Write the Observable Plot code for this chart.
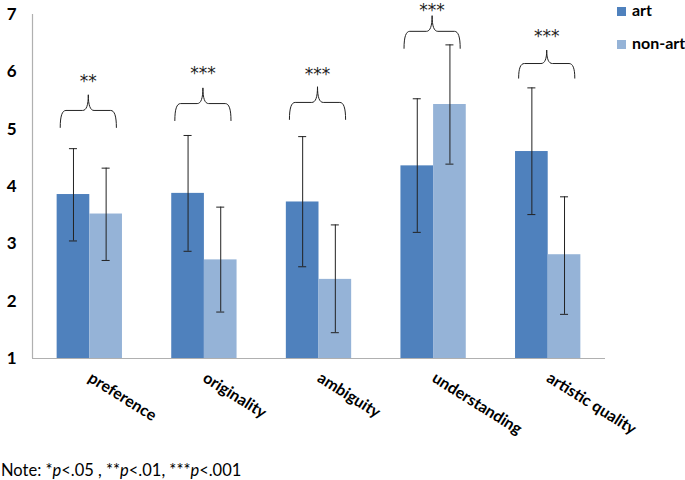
<!DOCTYPE html>
<html><head><meta charset="utf-8">
<script src="https://cdn.jsdelivr.net/npm/d3@7"></script>
<script src="https://cdn.jsdelivr.net/npm/@observablehq/plot@0.6"></script>
<style>
body{margin:0;background:#fff;font-family:Lato,sans-serif}
#wrap{position:relative;width:685px;height:480px;overflow:hidden}
#wrap svg{position:absolute;left:0;top:0}
.leg{position:absolute;left:617px;font:bold 16px Lato,sans-serif;color:#000;white-space:nowrap;line-height:16px}
.leg span{display:inline-block;width:9px;height:9px;margin-right:6px;vertical-align:0px}
#note{position:absolute;left:1px;top:460px;font:16.5px Lato,sans-serif;color:#000;white-space:nowrap}
</style></head>
<body><div id="wrap"></div>
<script>
const categories = ["preference","originality","ambiguity","understanding","artistic quality"];
const groups = ["art","non-art"];
const groupColors = ["#4f81bd","#95b3d7"];
const artMean = [3.86,3.88,3.73,4.36,4.61];
const artLow = [3.05,2.87,2.60,3.20,3.51];
const artHigh = [4.66,4.89,4.87,5.53,5.72];
const nonArtMean = [3.52,2.72,2.38,5.43,2.81];
const nonArtLow = [2.71,1.81,1.45,4.39,1.77];
const nonArtHigh = [4.32,3.64,3.33,6.47,3.82];
const significance = ["**","***","***","***","***"];
const braceBase = [5.03,5.15,5.17,6.41,5.89];
const braceHeight = [0.57,0.57,0.57,0.57,0.49];
const starLevel = [5.89,6.03,6.01,7.12,6.67];
const yTicks = [1,2,3,4,5,6,7];

const barW = 0.285;
const rows = [];
categories.forEach((c,i)=>{
  rows.push({i,group:"art",mean:artMean[i],low:artLow[i],high:artHigh[i],x1:i-barW,x2:i});
  rows.push({i,group:"non-art",mean:nonArtMean[i],low:nonArtLow[i],high:nonArtHigh[i],x1:i,x2:i+barW});
});
rows.forEach(r=>{r.xc=(r.x1+r.x2)/2; r.c1=r.xc-0.035; r.c2=r.xc+0.035;});
const caps = rows.flatMap(r=>[{y:r.low,x1:r.c1,x2:r.c2},{y:r.high,x1:r.c1,x2:r.c2}]);

// brace shape built from quadratic segments
function quad(p0,p1,p2,n=8){const o=[];for(let k=0;k<=n;k++){const t=k/n,a=(1-t)*(1-t),b=2*(1-t)*t,c=t*t;o.push([a*p0[0]+b*p1[0]+c*p2[0],a*p0[1]+b*p1[1]+c*p2[1]]);}return o;}
const braces=[];
categories.forEach((c,i)=>{
  const xm=i-0.013,hw=0.245,r=0.05,base=braceBase[i],h=braceHeight[i],flat=base+h*0.52,cusp=base+h;
  const x0=xm-hw,x1=xm+hw;
  const pts=[...quad([x0,base],[x0,flat],[x0+r,flat]),...quad([xm-r,flat],[xm,flat],[xm,cusp]),...quad([xm,cusp],[xm,flat],[xm+r,flat]),...quad([x1-r,flat],[x1,flat],[x1,base])];
  pts.forEach(p=>braces.push({i,x:p[0],y:p[1]}));
});
const stars = categories.map((c,i)=>({x:i-0.013,y:starLevel[i],t:significance[i]}));

const chart = Plot.plot({
  width:685, height:440,
  marginLeft:32, marginRight:80, marginTop:14, marginBottom:82,
  style:{fontFamily:"Lato, sans-serif",background:"white",overflow:"visible"},
  x:{type:"linear",domain:[-0.5,4.5]},
  y:{domain:[1,7]},
  color:{domain:groups,range:groupColors},
  marks:[
    Plot.rectY(rows,{x1:"x1",x2:"x2",y1:1,y2:"mean",fill:"group"}),
    Plot.ruleX(rows,{x:"xc",y1:"low",y2:"high",stroke:"#222",strokeWidth:1}),
    Plot.ruleY(caps,{y:"y",x1:"x1",x2:"x2",stroke:"#222",strokeWidth:1}),
    Plot.ruleX([-0.5],{y1:1,y2:7,stroke:"#b0b0b0",strokeWidth:1.2}),
    Plot.ruleY([1],{x1:-0.5,x2:4.5,stroke:"#b0b0b0",strokeWidth:1.2}),
    Plot.line(braces,{x:"x",y:"y",z:"i",stroke:"#222",strokeWidth:1}),
    Plot.text(stars,{x:"x",y:"y",text:"t",fontSize:17,fontFamily:"DejaVu Sans",fill:"#222",dy:3}),
    Plot.axisY({ticks:yTicks,tickFormat:"d",tickSize:0,tickPadding:16,fontWeight:"bold",fontSize:17,label:null,fill:"#000"}),
    Plot.axisX({ticks:[0,1,2,3,4],tickFormat:i=>categories[i],tickRotate:32,textAnchor:"start",tickSize:0,tickPadding:18,fontWeight:"bold",fontSize:16,label:null,fill:"#000"})
  ]
});
const wrap=document.getElementById("wrap");
wrap.appendChild(chart);
groups.forEach((g,k)=>{
  const d=document.createElement("div");d.className="leg";d.style.top=(k===0?2:35)+"px";
  d.innerHTML=`<span style="background:${groupColors[k]}"></span>${g}`;wrap.appendChild(d);
});
const note=document.createElement("div");note.id="note";
note.innerHTML="Note: *<i>p</i>&lt;.05 , **<i>p</i>&lt;.01, ***<i>p</i>&lt;.001";
wrap.appendChild(note);
</script></body></html>
